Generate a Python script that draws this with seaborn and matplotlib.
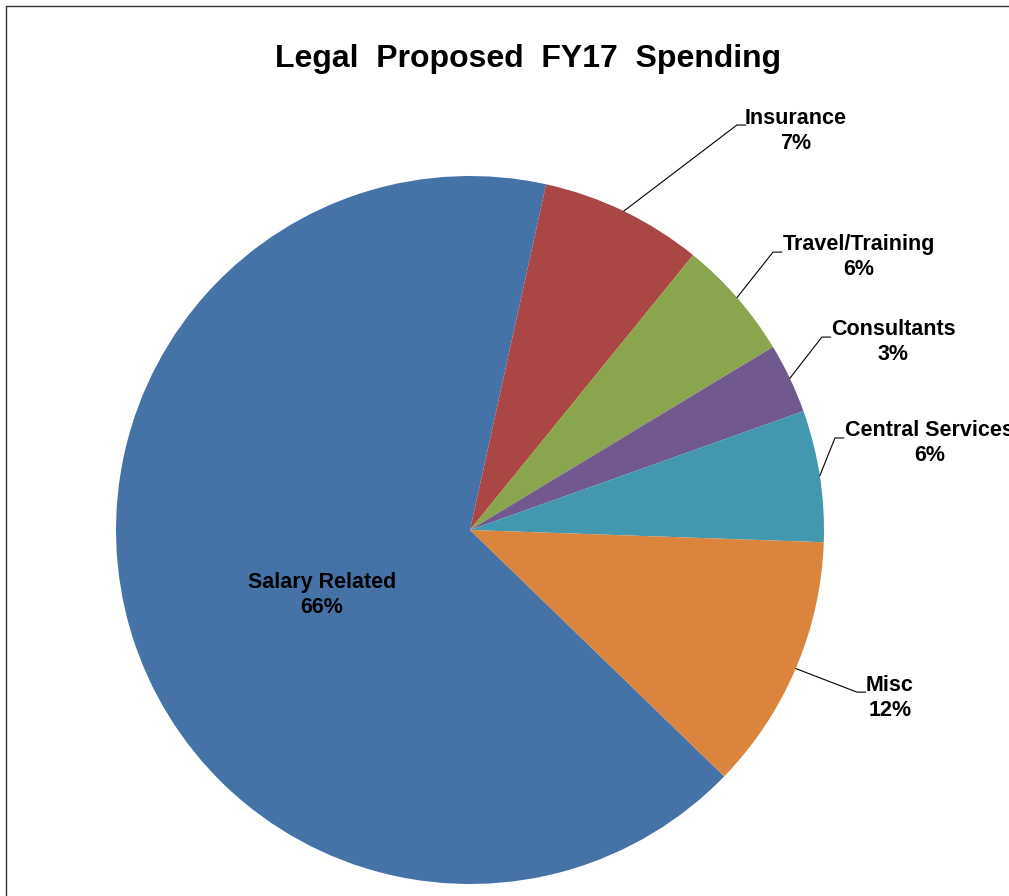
import numpy as np
import matplotlib
matplotlib.use("Agg")
import matplotlib.pyplot as plt
from matplotlib.lines import Line2D
import seaborn as sns

# Spending shares (percent of total)
categories = ["Salary Related", "Insurance", "Travel/Training", "Consultants",
              "Central Services", "Misc"]
shares = [66.2, 7.4, 5.5, 3.2, 6.0, 11.7]
colors = ["#4572A7", "#AA4643", "#89A54E", "#71588F", "#4198AF", "#DB843D"]

title = "Legal  Proposed  FY17  Spending"

# Outside-label layout: (elbow x, elbow y, text centre x, text centre y) in pie units
outside_layout = {
    "Insurance":        (0.754, 1.144, 0.921, 1.127),
    "Travel/Training":  (0.856, 0.785, 1.099, 0.771),
    "Consultants":      (0.994, 0.545, 1.195, 0.531),
    "Central Services": (1.031, 0.260, 1.299, 0.246),
    "Misc":             (1.093, -0.458, 1.186, -0.475),
}
# Inside-label layout: text centre in pie units
inside_layout = {"Salary Related": (-0.418, -0.183)}

sns.set_theme(style="white")
plt.rcParams["font.family"] = ["Liberation Sans", "DejaVu Sans"]

W, H, DPI = 1009, 896, 100
fig = plt.figure(figsize=(W / DPI, H / DPI), dpi=DPI)
fig.patch.set_facecolor("white")

# Square axes for the pie: centre (470, 530) px, radius 354 px
cx, cy, r = 470, 530, 354
ax = fig.add_axes([(cx - r) / W, (H - cy - r) / H, 2 * r / W, 2 * r / H])

wedges, _ = ax.pie(shares, colors=colors, startangle=-44.1, counterclock=False,
                   radius=1.0, wedgeprops=dict(linewidth=0))
ax.set_xlim(-1, 1)
ax.set_ylim(-1, 1)
ax.axis("off")

total = float(sum(shares))
label_font = dict(fontsize=15.5, fontweight="bold", color="black")
for w, cat, val in zip(wedges, categories, shares):
    pct = int(np.floor(val / total * 100 + 0.5 + 1e-9))
    text = f"{cat}\n{pct}%"
    mid = np.deg2rad((w.theta1 + w.theta2) / 2)
    if cat in outside_layout:
        ex, ey, tx, ty = outside_layout[cat]
        sx, sy = np.cos(mid), np.sin(mid)
        ax.add_line(Line2D([sx, ex, ex + 0.025], [sy, ey, ey],
                           color="black", lw=0.8, clip_on=False))
        ax.text(tx, ty, text, ha="center", va="center", linespacing=1.27,
                clip_on=False, **label_font)
    else:
        tx, ty = inside_layout[cat]
        ax.text(tx, ty, text, ha="center", va="center", linespacing=1.27,
                **label_font)

fig.text(528 / W, 1 - 59 / H, title, ha="center", va="center",
         fontsize=23, fontweight="bold", color="black")

# Chart frame (top and left edges visible)
fig.add_artist(Line2D([6 / W, 1.0], [1 - 6 / H, 1 - 6 / H],
                      transform=fig.transFigure, color="#333333", lw=1.0))
fig.add_artist(Line2D([6 / W, 6 / W], [0.0, 1 - 6 / H],
                      transform=fig.transFigure, color="#333333", lw=1.0))

fig.savefig("out.png", dpi=DPI, facecolor="white")
